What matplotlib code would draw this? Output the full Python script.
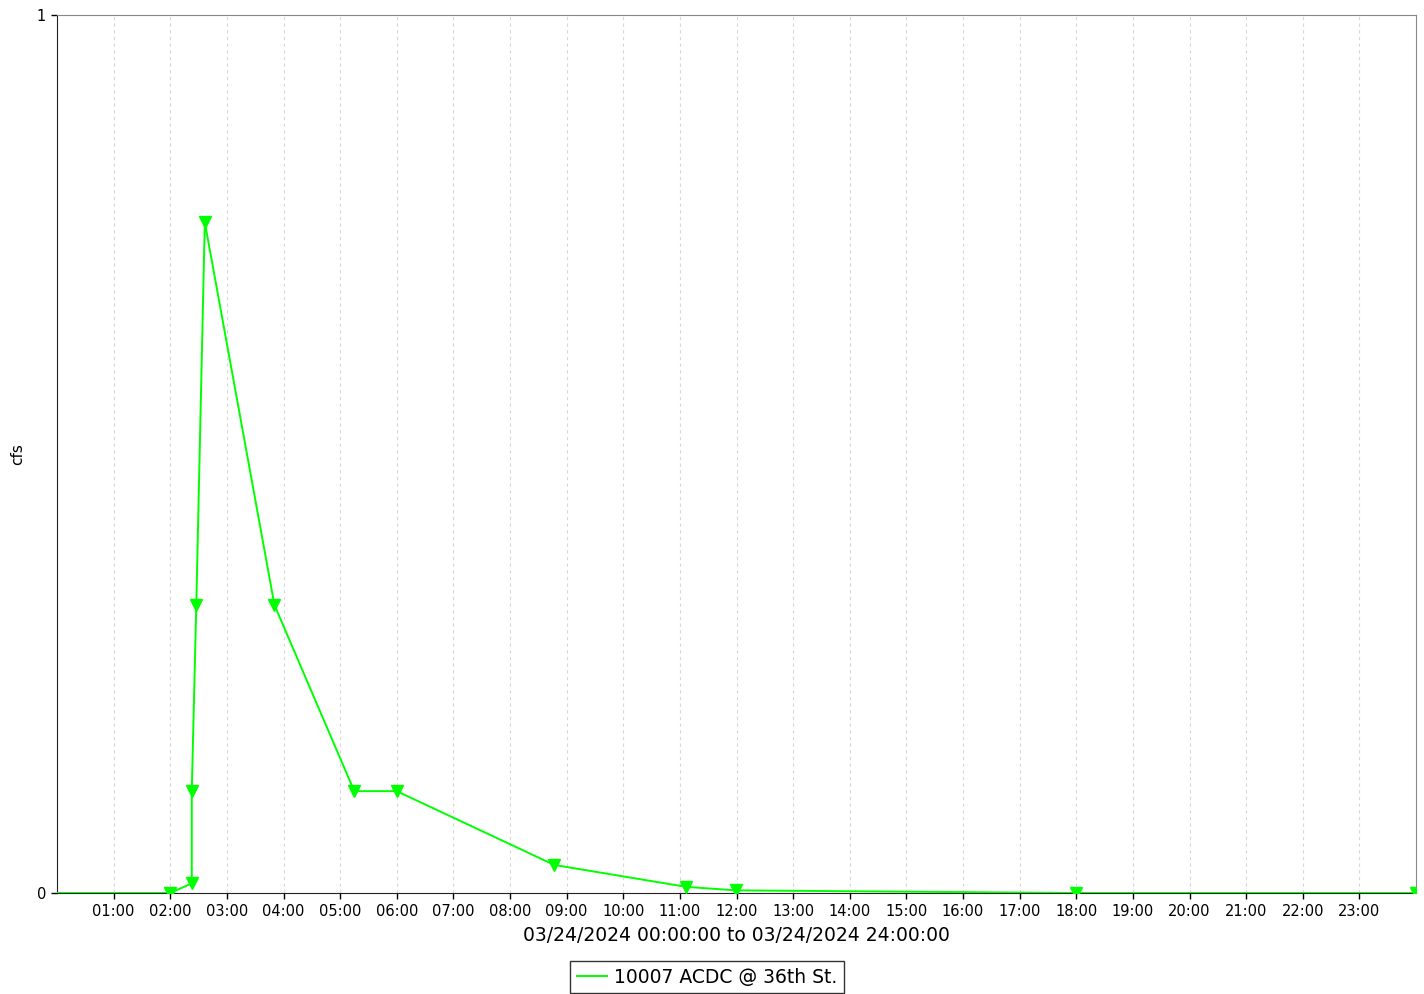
import matplotlib
matplotlib.use("Agg")
import matplotlib.pyplot as plt

# flow readings, hours since midnight 03/24/2024
hours = [0.0, 2.0, 2.38, 2.38, 2.46, 2.61, 3.84, 5.25, 6.0, 8.78, 11.11, 11.99, 18.0, 24.0]
cfs = [0.0, 0.0, 0.011, 0.116, 0.328, 0.764, 0.328, 0.116, 0.116, 0.032, 0.007, 0.003, 0.0, 0.0]

tick_hours = list(range(1, 24))
tick_labels = ["%02d:00" % h for h in tick_hours]
series_name = "10007 ACDC @ 36th St."

fig = plt.figure(figsize=(14.24, 9.94), dpi=100)
ax = fig.add_axes([57 / 1424, 1 - 893 / 994, (1416 - 57) / 1424, (893 - 15) / 994])

ax.plot(hours, cfs, color="#00ff00", lw=1.4, marker="v", markersize=8,
        markevery=list(range(1, len(hours))), label=series_name, zorder=3)

ax.set_xlim(0, 24)
ax.set_ylim(0, 1)
ax.set_xticks(tick_hours)
ax.set_xticklabels(tick_labels, fontsize=10.5)
ax.set_yticks([0, 1])
ax.set_yticklabels(["0", "1"], fontsize=10.5)
ax.tick_params(direction="out", length=4, width=1, pad=4)

for h in tick_hours:
    ax.axvline(h, color="#d8d8d8", lw=0.8, ls=(0, (3, 3)), zorder=0)

ax.spines["top"].set_color("#888888")
ax.spines["right"].set_color("#888888")
ax.spines["left"].set_color("#222222")
ax.spines["bottom"].set_color("#222222")

ax.set_xlabel("03/24/2024 00:00:00 to 03/24/2024 24:00:00", fontsize=13.5, labelpad=5)
ax.set_ylabel("cfs", fontsize=11, labelpad=8)

leg = fig.legend(loc="upper center", bbox_to_anchor=(707 / 1424, 1 - 961 / 994),
                 borderaxespad=0, fontsize=13.5, frameon=True, fancybox=False,
                 handlelength=1.6, handletextpad=0.4, borderpad=0.35)
leg.get_frame().set_edgecolor("black")
leg.get_frame().set_linewidth(1.0)
for h in leg.legend_handles:
    h.set_marker("")

fig.savefig("out.png", dpi=100)
